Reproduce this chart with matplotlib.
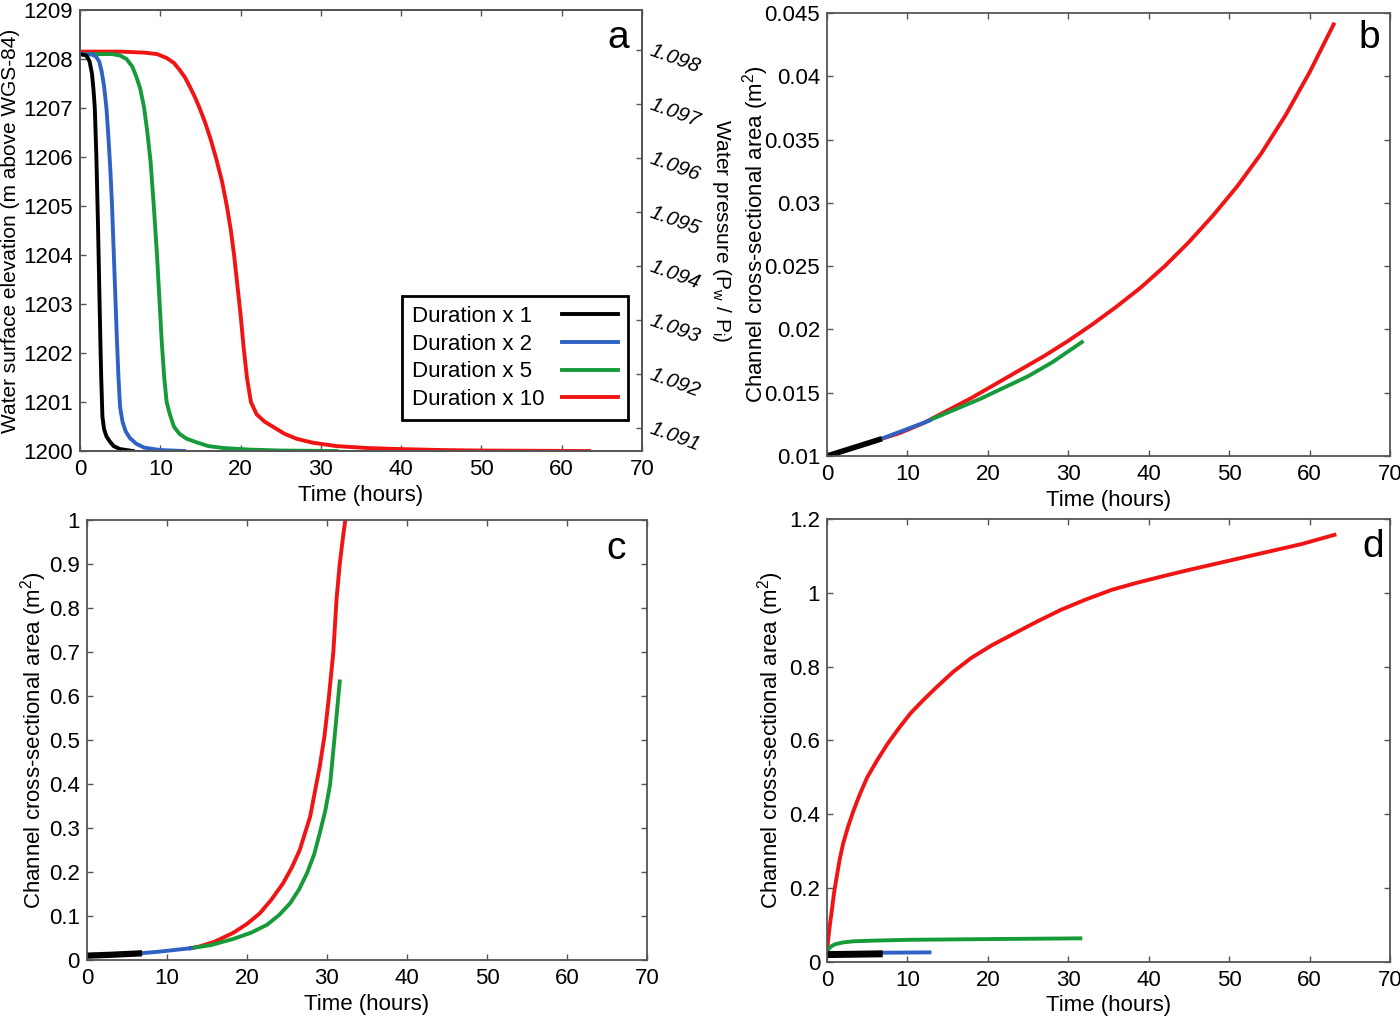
import numpy as np
import matplotlib
matplotlib.use("Agg")
import matplotlib.pyplot as plt

plt.rcParams['font.family'] = ['Liberation Sans', 'DejaVu Sans']
plt.rcParams['mathtext.fontset'] = 'custom'
plt.rcParams['mathtext.rm'] = 'Liberation Sans'
plt.rcParams['mathtext.it'] = 'Liberation Sans:italic'

# colours of the four runs
C_BLACK = "black"
C_BLUE = "#2f62c4"
C_GREEN = "#169a3a"
C_RED = "#f01414"

labels = ["Duration x 1", "Duration x 2", "Duration x 5", "Duration x 10"]

# panel a: water surface elevation (m)
t_a_black = [0, 0.8, 1.2, 1.5, 1.7, 1.85, 1.95, 2.05, 2.15, 2.25, 2.35, 2.45, 2.55, 2.65,
             2.8, 3.0, 3.3, 3.7, 4.2, 5.0, 6.6]
z_a_black = [1208.1, 1208.07, 1207.95, 1207.7, 1207.35, 1207.0, 1206.5, 1206.0, 1205.3, 1204.6,
             1203.8, 1203.0, 1202.2, 1201.5, 1200.7, 1200.45, 1200.3, 1200.2, 1200.1, 1200.04, 1200.0]
t_a_blue = [0, 1.5, 2.0, 2.4, 2.7, 3.0, 3.3, 3.55, 3.8, 4.0, 4.2, 4.4, 4.6, 4.8, 5.0, 5.3,
            5.7, 6.2, 7.0, 8.0, 10, 13]
z_a_blue = [1208.1, 1208.09, 1208.05, 1207.95, 1207.75, 1207.45, 1207.0, 1206.4, 1205.7, 1205.0,
            1204.1, 1203.2, 1202.3, 1201.5, 1200.9, 1200.6, 1200.4, 1200.27, 1200.15, 1200.07,
            1200.02, 1200.0]
t_a_green = [0, 4, 5.0, 5.8, 6.5, 7.0, 7.5, 8.0, 8.4, 8.8, 9.2, 9.6, 9.9, 10.2, 10.5, 10.8,
             11.2, 11.7, 12.4, 13.3, 14.5, 16, 18, 21, 25, 32]
z_a_green = [1208.1, 1208.1, 1208.07, 1208.0, 1207.85, 1207.65, 1207.4, 1207.0, 1206.5, 1205.9,
             1205.0, 1204.0, 1203.1, 1202.2, 1201.5, 1201.0, 1200.75, 1200.5, 1200.35, 1200.25,
             1200.18, 1200.1, 1200.06, 1200.03, 1200.01, 1200.0]
t_a_red = [0, 5, 8, 9.6, 10.8, 11.7, 12.4, 13.1, 13.7, 14.3, 14.9, 15.6, 16.3, 17.0, 17.7,
           18.3, 18.8, 19.2, 19.6, 20.0, 20.4, 20.8, 21.3, 22.0, 23.0, 24.0, 25.5, 27, 29, 32,
           36, 40, 45, 50, 63.4]
z_a_red = [1208.15, 1208.15, 1208.13, 1208.1, 1208.02, 1207.92, 1207.78, 1207.62, 1207.43,
           1207.23, 1207.0, 1206.7, 1206.35, 1205.95, 1205.5, 1205.0, 1204.5, 1204.0, 1203.4,
           1202.8, 1202.1, 1201.5, 1201.0, 1200.75, 1200.6, 1200.5, 1200.35, 1200.25, 1200.17,
           1200.1, 1200.06, 1200.04, 1200.02, 1200.01, 1200.0]

# panel b: channel area, early stage (m2)
t_b_black = [0, 3, 6.5]
s_b_black = [0.0100, 0.0106, 0.0113]
t_b_blue = [6.5, 9, 12.75]
s_b_blue = [0.0113, 0.0119, 0.0128]
t_b_green = [13, 16, 19, 22, 25, 28, 31.7]
s_b_green = [0.0129, 0.0137, 0.0145, 0.0154, 0.0163, 0.0174, 0.0190]
t_b_red = [0, 3, 6, 9, 12, 15, 18, 21, 24, 27, 30, 33, 36, 39, 42, 45, 48, 51, 54, 57, 60, 63]
s_b_red = [0.0100, 0.0106, 0.0112, 0.0118, 0.0126, 0.0136, 0.0146, 0.0157, 0.0168, 0.0179,
           0.0191, 0.0204, 0.0218, 0.0233, 0.0250, 0.0269, 0.0290, 0.0313, 0.0339, 0.0369,
           0.0403, 0.0441]

# panel c
t_c_black = [0, 3, 6.5]
s_c_black = [0.010, 0.012, 0.015]
t_c_blue = [6.5, 9, 13]
s_c_blue = [0.015, 0.019, 0.027]
t_c_green = [13, 15.5, 18.3, 20.5, 22.5, 24, 25.4, 26.5, 27.5, 28.4, 29.1, 29.8, 30.4, 31.0, 31.6]
s_c_green = [0.027, 0.034, 0.048, 0.062, 0.080, 0.102, 0.129, 0.160, 0.197, 0.240, 0.288,
             0.340, 0.400, 0.515, 0.633]
t_c_red = [13, 14.1, 16, 18.3, 20, 21.6, 23, 24.5, 25.6, 26.6, 27.9, 29.1, 29.7, 30.2, 30.8,
           31.2, 31.6, 32.0, 32.3, 32.6]
s_c_red = [0.027, 0.031, 0.042, 0.062, 0.082, 0.106, 0.136, 0.174, 0.210, 0.250, 0.326, 0.440,
           0.510, 0.590, 0.700, 0.820, 0.900, 0.960, 1.000, 1.060]

# panel d
t_d_black = [0, 6.5]
s_d_black = [0.020, 0.022]
t_d_blue = [6.5, 12.75]
s_d_blue = [0.025, 0.026]
t_d_green = [0, 0.5, 1, 2, 3.3, 6, 10, 20, 31.5]
s_d_green = [0.030, 0.042, 0.048, 0.053, 0.056, 0.058, 0.060, 0.062, 0.064]
t_d_red = [0, 0.15, 0.3, 0.6, 0.9, 1.2, 1.6, 2.0, 2.6, 3.3, 4.1, 5.0, 6.2, 7.5, 9.0, 10.4, 12,
           13.7, 15.7, 17.9, 20.5, 23.3, 26.2, 29.1, 32.2, 35.4, 38.5, 41.6, 45, 50, 55, 59, 63.1]
s_d_red = [0.03, 0.06, 0.09, 0.14, 0.19, 0.23, 0.28, 0.32, 0.365, 0.41, 0.455, 0.50, 0.545,
           0.59, 0.635, 0.674, 0.71, 0.746, 0.786, 0.823, 0.858, 0.89, 0.923, 0.954, 0.982,
           1.008, 1.027, 1.044, 1.062, 1.087, 1.112, 1.132, 1.157]

x_ticks = np.arange(0, 71, 10)
ticks_a = np.arange(1200, 1210, 1)
ticks_a_right = [1.091, 1.092, 1.093, 1.094, 1.095, 1.096, 1.097, 1.098]
ticks_b = [0.01, 0.015, 0.02, 0.025, 0.03, 0.035, 0.04, 0.045]
ticks_c = np.round(np.arange(0, 1.01, 0.1), 1)
ticks_d = np.round(np.arange(0, 1.21, 0.2), 1)

SPINE = "#555555"
FS = 16
LW = 2.8


def style(ax, right=True):
    for s in ax.spines.values():
        s.set_color(SPINE)
        s.set_linewidth(1.3)
    ax.tick_params(direction="in", length=4, width=1, color=SPINE, labelsize=FS,
                   top=True, right=right, pad=5)
    ax.tick_params(axis="x", pad=6)
    ax.set_xlim(0, 70)
    ax.set_xticks(x_ticks)
    ax.set_xlabel("Time (hours)", fontsize=FS, labelpad=3)


def fmt(v):
    return "%g" % v


fig = plt.figure(figsize=(14, 10.17), dpi=100)
ax_a = fig.add_axes([0.0571, 0.5565, 0.4014, 0.4337])
ax_b = fig.add_axes([0.5907, 0.5516, 0.4021, 0.4356])
ax_c = fig.add_axes([0.0621, 0.0560, 0.4000, 0.4327])
ax_d = fig.add_axes([0.5907, 0.0541, 0.4021, 0.4356])

# ---- panel a
ax_a.plot(t_a_red, z_a_red, color=C_RED, lw=LW, label=labels[3])
ax_a.plot(t_a_green, z_a_green, color=C_GREEN, lw=LW, label=labels[2])
ax_a.plot(t_a_blue, z_a_blue, color=C_BLUE, lw=LW, label=labels[1])
ax_a.plot(t_a_black, z_a_black, color=C_BLACK, lw=LW, label=labels[0])
style(ax_a, right=False)
ax_a.set_ylim(1200, 1209)
ax_a.set_yticks(ticks_a)
ax_a.set_yticklabels([str(v) for v in ticks_a])
ax_a.set_ylabel("Water surface elevation (m above WGS-84)", fontsize=15, labelpad=2)
h, l = ax_a.get_legend_handles_labels()
leg = ax_a.legend(h[::-1], l[::-1], loc="lower right", bbox_to_anchor=(0.975, 0.07),
                  markerfirst=False, fontsize=FS, fancybox=False, framealpha=1,
                  handlelength=2.5, borderpad=0.45, labelspacing=0.3, handletextpad=0.8,
                  borderaxespad=0)
leg.get_frame().set_edgecolor("black")
leg.get_frame().set_linewidth(2)
ax_a.text(0.957, 0.936, "a", transform=ax_a.transAxes, fontsize=28, ha="center", va="center")

ax_r = ax_a.twinx()
ax_r.set_ylim(1.09057, 1.09874)
ax_r.set_yticks(ticks_a_right)
ax_r.set_yticklabels(["%.3f" % v for v in ticks_a_right], rotation=-20, fontstyle="italic",
                     rotation_mode="anchor", ha="left", va="center")
ax_r.tick_params(direction="in", length=4, width=1, color=SPINE, labelsize=FS - 1, pad=6)
for s in ax_r.spines.values():
    s.set_color(SPINE)
    s.set_linewidth(1.3)
ax_r.set_ylabel(r"Water pressure (P$_{\mathrm{w}}$ / P$_{\mathrm{i}}$)", fontsize=15,
                rotation=270, labelpad=22)

# ---- panel b
ax_b.plot(t_b_red, s_b_red, color=C_RED, lw=LW)
ax_b.plot(t_b_green, s_b_green, color=C_GREEN, lw=LW)
ax_b.plot(t_b_blue, s_b_blue, color=C_BLUE, lw=LW)
ax_b.plot(t_b_black, s_b_black, color=C_BLACK, lw=4)
style(ax_b)
ax_b.set_ylim(0.01, 0.045)
ax_b.set_yticks(ticks_b)
ax_b.set_yticklabels([fmt(v) for v in ticks_b])
ax_b.set_ylabel(r"Channel cross-sectional area (m$^2$)", fontsize=FS, labelpad=-5)
ax_b.text(0.964, 0.943, "b", transform=ax_b.transAxes, fontsize=28, ha="center", va="center")

# ---- panel c
ax_c.plot(t_c_red, s_c_red, color=C_RED, lw=LW)
ax_c.plot(t_c_green, s_c_green, color=C_GREEN, lw=LW)
ax_c.plot(t_c_blue, s_c_blue, color=C_BLUE, lw=LW)
ax_c.plot(t_c_black, s_c_black, color=C_BLACK, lw=4.5)
style(ax_c)
ax_c.set_ylim(0, 1)
ax_c.set_yticks(ticks_c)
ax_c.set_yticklabels([fmt(v) for v in ticks_c])
ax_c.set_ylabel(r"Channel cross-sectional area (m$^2$)", fontsize=FS, labelpad=0)
ax_c.text(0.945, 0.934, "c", transform=ax_c.transAxes, fontsize=28, ha="center", va="center")

# ---- panel d
ax_d.plot(t_d_red, s_d_red, color=C_RED, lw=LW)
ax_d.plot(t_d_green, s_d_green, color=C_GREEN, lw=LW)
ax_d.plot(t_d_blue, s_d_blue, color=C_BLUE, lw=LW)
ax_d.plot(t_d_black, s_d_black, color=C_BLACK, lw=5)
style(ax_d)
ax_d.set_ylim(0, 1.2)
ax_d.set_yticks(ticks_d)
ax_d.set_yticklabels([fmt(v) for v in ticks_d])
ax_d.set_ylabel(r"Channel cross-sectional area (m$^2$)", fontsize=FS, labelpad=2)
ax_d.text(0.97, 0.937, "d", transform=ax_d.transAxes, fontsize=28, ha="center", va="center")

# left-align legend labels while keeping the line samples in one column
fig.canvas.draw()
widths = [t.get_window_extent().width for t in leg.get_texts()]
wmax = max(widths)
col = leg._legend_handle_box.get_children()[0]
col.align = "left"
for row, w in zip(col.get_children(), widths):
    row.sep = row.sep + (wmax - w) * 72.0 / fig.dpi

fig.savefig("out.png", dpi=100)
